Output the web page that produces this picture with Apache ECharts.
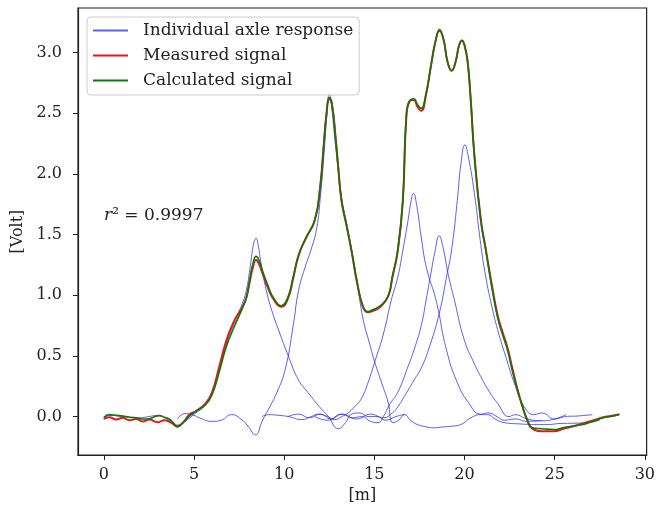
<!DOCTYPE html>
<html>
<head>
<meta charset="utf-8">
<title>Axle responses</title>
<script src="https://cdn.jsdelivr.net/npm/echarts@6/dist/echarts.min.js"></script>
<style>
  html, body { margin: 0; padding: 0; background: #fff; }
  #chart { width: 658px; height: 509px; }
</style>
</head>
<body>
<div id="chart"></div>
<script>
// tick labels
const xTicks = [0, 5, 10, 15, 20, 25, 30]
const yTicks = [0, 0.5, 1.0, 1.5, 2.0, 2.5, 3.0]

// measured signal (red)
const measuredX = [0, 0.3, 0.68, 1.05, 1.42, 1.79, 2.15, 2.52, 2.98, 3.35, 3.72, 4.08, 4.45, 4.73, 5.1, 5.65, 6.0, 6.38, 6.8, 7.2, 7.5, 7.67, 7.9, 8.1, 8.25, 8.44, 8.6, 8.8, 9.1, 9.4, 9.84, 10.2, 10.5, 10.8, 11.2, 11.7, 12.0, 12.2, 12.35, 12.5, 12.65, 12.85, 13.0, 13.18, 13.45, 13.73, 14.05, 14.38, 14.65, 14.9, 15.3, 15.76, 16.0, 16.3, 16.58, 16.77, 16.95, 17.19, 17.4, 17.6, 17.85, 18.15, 18.4, 18.61, 18.85, 19.05, 19.29, 19.5, 19.7, 19.86, 20.0, 20.17, 20.35, 20.54, 20.9, 21.18, 21.5, 21.83, 22.1, 22.38, 22.65, 22.93, 23.2, 23.48, 23.76, 24.3, 24.95, 25.5, 26.2, 26.7, 27.16, 27.7, 28.1, 28.6]
const measuredY = [-0.02, -0.005, -0.025, -0.01, -0.03, -0.02, -0.04, -0.025, -0.047, -0.03, -0.05, -0.08, -0.04, 0.016, 0.044, 0.11, 0.2, 0.4, 0.63, 0.78, 0.86, 0.9, 0.98, 1.12, 1.22, 1.29, 1.26, 1.18, 1.06, 0.97, 0.905, 0.97, 1.14, 1.33, 1.47, 1.62, 1.9, 2.25, 2.5, 2.62, 2.57, 2.3, 2.05, 1.78, 1.58, 1.37, 1.1, 0.9, 0.86, 0.87, 0.9, 0.99, 1.15, 1.37, 1.78, 2.46, 2.6, 2.61, 2.55, 2.52, 2.64, 2.9, 3.1, 3.18, 3.1, 2.93, 2.85, 2.92, 3.06, 3.1, 3.06, 2.93, 2.6, 2.17, 1.63, 1.38, 1.1, 0.84, 0.7, 0.57, 0.4, 0.23, 0.09, -0.03, -0.1, -0.12, -0.12, -0.1, -0.074, -0.05, -0.03, -0.005, 0.005, 0.02]

// calculated signal (green)
const calcX = [0, 0.31, 0.7, 1.05, 1.4, 1.79, 2.1, 2.43, 2.75, 3.07, 3.35, 3.62, 3.85, 4.08, 4.3, 4.54, 4.8, 5.1, 5.65, 6.0, 6.38, 6.8, 7.2, 7.67, 7.9, 8.1, 8.25, 8.44, 8.6, 8.8, 9.1, 9.4, 9.84, 10.2, 10.5, 10.8, 11.2, 11.7, 12.0, 12.2, 12.35, 12.5, 12.65, 12.85, 13.0, 13.18, 13.45, 13.73, 14.05, 14.38, 14.65, 14.9, 15.3, 15.76, 16.0, 16.3, 16.58, 16.77, 16.95, 17.19, 17.4, 17.6, 17.85, 18.15, 18.4, 18.61, 18.85, 19.05, 19.29, 19.5, 19.7, 19.86, 20.0, 20.17, 20.35, 20.54, 20.9, 21.18, 21.5, 21.83, 22.1, 22.38, 22.65, 22.93, 23.2, 23.48, 23.76, 24.3, 24.95, 25.5, 26.2, 26.7, 27.16, 27.7, 28.1, 28.54]
const calcY = [-0.01, 0.016, 0.01, 0.005, -0.005, -0.01, -0.02, -0.02, -0.005, 0.008, -0.005, -0.02, -0.05, -0.085, -0.06, -0.025, 0.01, 0.044, 0.1, 0.18, 0.36, 0.58, 0.73, 0.89, 0.98, 1.14, 1.25, 1.32, 1.29, 1.2, 1.08, 0.98, 0.914, 0.98, 1.15, 1.33, 1.47, 1.62, 1.9, 2.25, 2.5, 2.63, 2.58, 2.3, 2.05, 1.78, 1.58, 1.37, 1.1, 0.905, 0.865, 0.88, 0.91, 0.99, 1.15, 1.37, 1.78, 2.47, 2.6, 2.62, 2.57, 2.54, 2.65, 2.9, 3.1, 3.19, 3.1, 2.93, 2.85, 2.92, 3.06, 3.1, 3.06, 2.93, 2.6, 2.165, 1.62, 1.37, 1.08, 0.82, 0.68, 0.55, 0.38, 0.22, 0.09, -0.025, -0.093, -0.1, -0.107, -0.09, -0.074, -0.06, -0.038, -0.01, 0.0, 0.016]

// individual axle responses (blue)
const axle1X = [0, 0.5, 1, 1.5, 2, 2.5, 3, 3.5, 4.08, 4.5, 5.1, 5.6, 6.0, 6.4, 6.8, 7.2, 7.67, 7.9, 8.1, 8.25, 8.35, 8.44, 8.55, 8.7, 8.96, 9.3, 9.69, 10.24, 10.8, 11.34, 11.9, 12.45, 13.0, 13.4, 13.73, 14.2, 14.65, 15.2, 15.6, 16.2, 16.7]
const axle1Y = [0.0, 0.01, 0.0, -0.005, -0.01, 0.0, 0.01, -0.02, -0.07, -0.04, 0.03, 0.09, 0.2, 0.38, 0.6, 0.76, 0.93, 1.04, 1.22, 1.38, 1.45, 1.47, 1.42, 1.28, 1.07, 0.88, 0.714, 0.495, 0.3, 0.195, 0.09, 0.0, -0.1, -0.05, 0.02, 0.03, 0.0, 0.0, -0.03, 0.0, 0.02]

const axle2X = [4.08, 4.5, 5.0, 5.3, 6.0, 6.5, 7.1, 7.6, 8.0, 8.4, 8.8, 9.2, 9.6, 10.06, 10.5, 10.8, 11.2, 11.5, 11.8, 12.0, 12.2, 12.4, 12.5, 12.6, 12.8, 13.0, 13.18, 13.45, 13.73, 14.05, 14.38, 14.7, 15.02, 15.4, 15.76, 16.03, 16.35, 16.68, 17.0, 17.4, 17.9, 18.33, 18.8, 19.25, 19.8, 20.35, 20.9, 21.27, 21.7, 22.2, 23.0, 24.0, 24.6, 25.3, 26.0, 26.8, 27.5]
const axle2Y = [-0.02, 0.025, 0.01, -0.01, -0.04, -0.03, 0.016, -0.02, -0.08, -0.15, -0.03, 0.08, 0.2, 0.39, 0.75, 1.04, 1.25, 1.38, 1.55, 1.8, 2.15, 2.55, 2.67, 2.6, 2.3, 2.03, 1.8, 1.6, 1.38, 1.1, 0.8, 0.62, 0.45, 0.28, 0.12, -0.05, -0.03, 0.016, -0.03, -0.066, -0.085, -0.093, -0.085, -0.08, -0.065, -0.01, 0.016, 0.016, -0.02, -0.05, -0.06, -0.066, -0.066, -0.057, -0.055, -0.05, -0.03]

const axle3X = [8.77, 9.14, 9.7, 10.24, 10.98, 11.5, 11.9, 12.4, 12.8, 13.2, 13.55, 13.9, 14.29, 14.65, 15.02, 15.5, 15.94, 16.3, 16.58, 16.85, 17.04, 17.17, 17.35, 17.6, 17.9, 18.42, 19.0, 19.6, 20.2, 20.9, 21.3, 21.8, 22.2, 22.8, 23.5, 24.3]
const axle3Y = [0.0, 0.016, 0.01, 0.0, -0.025, 0.0, 0.02, 0.0, -0.025, 0.0, 0.03, 0.08, 0.15, 0.28, 0.45, 0.68, 0.96, 1.15, 1.37, 1.6, 1.78, 1.84, 1.74, 1.48, 1.22, 0.96, 0.55, 0.28, 0.12, 0.02, 0.03, 0.0, -0.03, -0.02, -0.04, -0.03]

const axle4X = [10.2, 10.8, 11.4, 12.0, 12.6, 13.2, 13.8, 14.3, 14.8, 15.2, 15.5, 15.85, 16.3, 16.86, 17.2, 17.6, 17.87, 18.1, 18.35, 18.6, 18.8, 19.1, 19.44, 19.99, 20.5, 20.9, 21.4, 21.83, 22.47, 22.8, 23.5, 24.3, 25.0, 25.65]
const axle4Y = [0.0, 0.02, -0.01, 0.02, -0.02, 0.02, -0.01, 0.0, -0.04, -0.05, 0.0, 0.1, 0.2, 0.41, 0.55, 0.75, 0.96, 1.15, 1.35, 1.49, 1.4, 1.17, 0.96, 0.63, 0.45, 0.33, 0.2, 0.11, 0.0, 0.015, -0.02, -0.035, -0.02, 0.016]

const axle5X = [11.7, 12.4, 13.2, 14.0, 14.8, 15.5, 16.0, 16.3, 16.8, 17.2, 17.6, 18.0, 18.6, 19.0, 19.29, 19.6, 19.8, 20.02, 20.2, 20.54, 20.9, 21.18, 21.5, 21.83, 22.38, 22.75, 23.3, 23.85, 24.3, 25.0, 25.6, 26.3, 27.1]
const axle5Y = [0.0, -0.03, 0.02, -0.02, 0.02, -0.01, 0.03, 0.08, 0.2, 0.3, 0.4, 0.55, 0.85, 1.15, 1.38, 1.78, 2.08, 2.24, 2.15, 1.85, 1.42, 1.15, 0.92, 0.72, 0.45, 0.28, 0.085, 0.016, 0.03, -0.02, 0.0, 0.005, 0.016]

const FONT = 'DejaVu Serif'
const AXLE_NAME = 'Individual axle response'
const AXLE_COLOR = 'rgba(40, 40, 240, 0.75)'

function zip(xs, ys) {
  return xs.map((x, i) => [x, ys[i]])
}

function lineSeries(name, xs, ys, color, width) {
  return {
    name: name,
    type: 'line',
    data: zip(xs, ys),
    showSymbol: false,
    smooth: 0.5,
    itemStyle: { color: color },
    lineStyle: { color: color, width: width },
    emphasis: { disabled: true }
  }
}

const chart = echarts.init(document.getElementById('chart'), null, { renderer: 'canvas' })

const axles = [
  [axle1X, axle1Y],
  [axle2X, axle2Y],
  [axle3X, axle3Y],
  [axle4X, axle4Y],
  [axle5X, axle5Y]
]

let series = []
for (let i = 0; i < axles.length; i++) {
  series.push(lineSeries(AXLE_NAME, axles[i][0], axles[i][1], AXLE_COLOR, 1))
}
series.push(lineSeries('Measured signal', measuredX, measuredY, '#e31a1c', 2))
series.push(lineSeries('Calculated signal', calcX, calcY, '#0b7a0b', 1.6))

chart.setOption({
  animation: false,
  backgroundColor: '#fff',
  grid: {
    left: 78,
    right: 10,
    top: 8,
    bottom: 53,
    show: true,
    borderColor: '#222',
    borderWidth: 1.2,
    backgroundColor: 'transparent'
  },
  legend: {
    data: [AXLE_NAME, 'Measured signal', 'Calculated signal'],
    orient: 'vertical',
    left: 87,
    top: 17,
    padding: [4, 6, 5, 6],
    itemGap: 6,
    itemWidth: 35,
    itemHeight: 2,
    icon: 'rect',
    backgroundColor: 'rgba(255,255,255,0.85)',
    borderColor: '#cccccc',
    borderWidth: 1,
    borderRadius: 4,
    selectedMode: false,
    textStyle: {
      fontFamily: FONT,
      fontSize: 17,
      color: '#222',
      lineHeight: 19,
      padding: [0, 0, 0, 10]
    }
  },
  xAxis: {
    type: 'value',
    min: -1.435,
    max: 30.1,
    name: '[m]',
    nameLocation: 'middle',
    nameGap: 29,
    nameTextStyle: { fontFamily: FONT, fontSize: 16, color: '#222' },
    axisLine: { show: true, onZero: false, lineStyle: { color: '#222', width: 1.2 } },
    axisTick: { show: true, length: 5, lineStyle: { color: '#222' }, customValues: xTicks },
    axisLabel: {
      fontFamily: FONT, fontSize: 16, color: '#222', margin: 12,
      customValues: xTicks,
      formatter: v => String(v)
    },
    splitLine: { show: false }
  },
  yAxis: {
    type: 'value',
    min: -0.3175,
    max: 3.3675,
    name: '[Volt]',
    nameLocation: 'middle',
    nameGap: 52,
    nameRotate: 90,
    nameTextStyle: { fontFamily: FONT, fontSize: 16, color: '#222' },
    axisLine: { show: true, onZero: false, lineStyle: { color: '#222', width: 1.2 } },
    axisTick: { show: true, length: 5, lineStyle: { color: '#222' }, customValues: yTicks },
    axisLabel: {
      fontFamily: FONT, fontSize: 16, color: '#222', margin: 16,
      customValues: yTicks,
      formatter: v => v.toFixed(1)
    },
    splitLine: { show: false }
  },
  graphic: [{
    type: 'text',
    left: 104,
    top: 207,
    style: {
      text: '{i|r}² = 0.9997',
      fontFamily: FONT,
      fontSize: 17,
      fill: '#222',
      rich: {
        i: { fontFamily: FONT, fontStyle: 'italic', fontSize: 17, fill: '#222' }
      }
    }
  }],
  series: series
})
</script>
</body>
</html>
